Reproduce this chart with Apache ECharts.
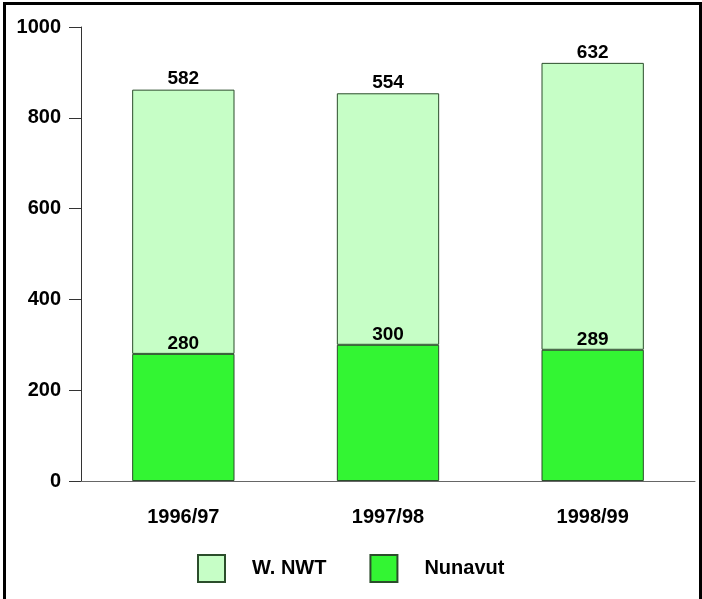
<!DOCTYPE html>
<html>
<head>
<meta charset="utf-8">
<script src="https://cdn.jsdelivr.net/npm/echarts@6/dist/echarts.min.js"></script>
<style>
  html, body { margin: 0; padding: 0; background: #fff; }
  #chart { width: 702px; height: 599px; }
</style>
</head>
<body>
<div id="chart"></div>
<script>
// Enrolment by fiscal year, split by region
const years = ['1996/97', '1997/98', '1998/99'];
const nunavut = [280, 300, 289];
const westernNwt = [582, 554, 632];
const yTicks = [0, 200, 400, 600, 800, 1000];

const FONT = '"Liberation Sans", Arial, sans-serif';
const LIGHT = '#c6fec6';
const BRIGHT = '#33f533';

const chart = echarts.init(document.getElementById('chart'), null, { renderer: 'canvas' });

const labelStyle = {
  show: true,
  position: 'top',
  distance: 1,
  color: '#000',
  fontFamily: FONT,
  fontWeight: 'bold',
  fontSize: 19
};

chart.setOption({
  animation: false,
  backgroundColor: '#fff',
  grid: { left: 81, right: 7, top: 27, bottom: 118 },
  graphic: [{
    type: 'rect',
    shape: { x: 4.5, y: 3.5, width: 696, height: 620 },
    style: { fill: 'none', stroke: '#000', lineWidth: 3 },
    silent: true
  }],
  legend: {
    data: ['W. NWT', 'Nunavut'],
    left: 197,
    top: 554,
    padding: 0,
    itemWidth: 27,
    itemHeight: 27,
    itemGap: 43,
    icon: 'rect',
    textStyle: {
      fontFamily: FONT,
      fontWeight: 'bold',
      fontSize: 20,
      color: '#000',
      padding: [0, 0, 0, 22]
    }
  },
  xAxis: {
    type: 'category',
    data: years,
    axisLine: { lineStyle: { color: '#666', width: 1 } },
    axisTick: { alignWithLabel: true, length: 12, lineStyle: { color: '#555' } },
    axisLabel: {
      margin: 26,
      color: '#000',
      fontFamily: FONT,
      fontWeight: 'bold',
      fontSize: 20
    }
  },
  yAxis: {
    type: 'value',
    min: yTicks[0],
    max: yTicks[yTicks.length - 1],
    interval: yTicks[1] - yTicks[0],
    splitLine: { show: false },
    axisLine: { show: true, lineStyle: { color: '#333', width: 1 } },
    axisTick: { show: true, length: 12, lineStyle: { color: '#333' } },
    axisLabel: {
      margin: 20,
      color: '#000',
      fontFamily: FONT,
      fontWeight: 'bold',
      fontSize: 20,
      formatter: (v) => String(v)
    }
  },
  series: [
    {
      name: 'Nunavut',
      type: 'bar',
      stack: 'total',
      data: nunavut,
      barWidth: '50%',
      itemStyle: { color: BRIGHT, borderColor: '#2b4d2b', borderWidth: 1 },
      label: labelStyle
    },
    {
      name: 'W. NWT',
      type: 'bar',
      stack: 'total',
      data: westernNwt,
      barWidth: '50%',
      itemStyle: { color: LIGHT, borderColor: '#2b4d2b', borderWidth: 1 },
      label: labelStyle
    }
  ]
});
</script>
</body>
</html>
